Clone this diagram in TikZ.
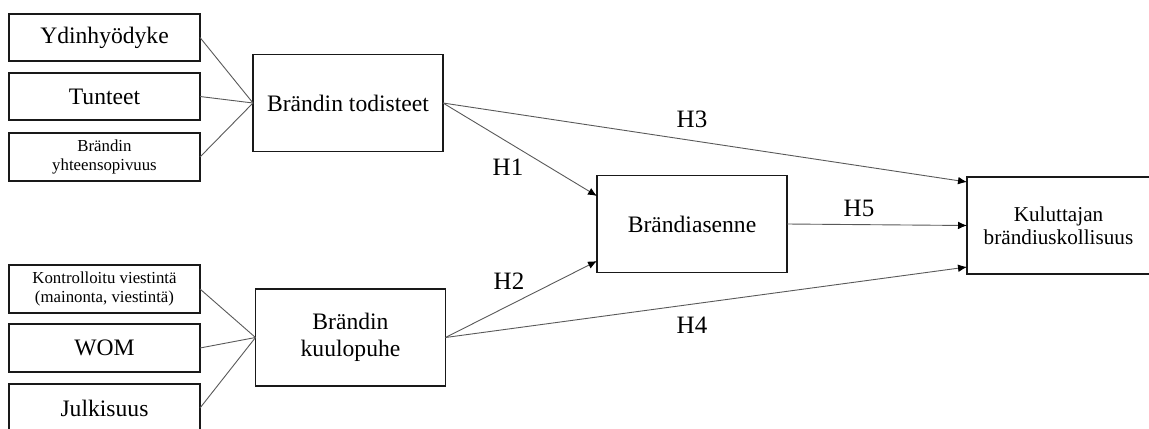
\documentclass[tikz,border=0pt]{standalone}
\usepackage{fontspec}
\setmainfont{Liberation Serif}
\usetikzlibrary{arrows.meta}

\tikzset{
  box/.style={draw=black!90, line width=0.85pt, inner sep=0pt, outer sep=0pt,
    align=center, font=\fontsize{11.8}{13.5}\selectfont},
  leftbox/.style={box, minimum width=95.5pt, minimum height=23.75pt},
  smallbox/.style={leftbox, font=\fontsize{8.4}{9.2}\selectfont},
  midbox/.style={box, minimum width=95pt, minimum height=48.5pt},
  link/.style={draw=black!65, line width=0.45pt},
  hyp/.style={link, -{Latex[length=4.5pt,width=3.8pt,color=black]}},
  hlabel/.style={font=\fontsize{12.5}{14}\selectfont}
}

\begin{document}
\begin{tikzpicture}[x=0.5pt, y=-0.5pt]

  \clip (0,0) rectangle (1149,428);

  % left column, upper group
  \node[leftbox]  (yd) at (104.5,37.5) {Ydinhyödyke};
  \node[leftbox]  (tu) at (104.5,96.5) {Tunteet};
  \node[smallbox] (yh) at (104.5,157)  {Brändin\\yhteensopivuus};

  % left column, lower group
  \node[smallbox] (ko)  at (104.5,289) {Kontrolloitu viestintä\\(mainonta, viestintä)};
  \node[leftbox]  (wom) at (104.5,348) {WOM};
  \node[leftbox]  (ju)  at (104.5,408) {Julkisuus};

  % constructs
  \node[midbox] (tod) at (348,103)     {Brändin todisteet};
  \node[midbox] (kuu) at (350.5,337.5) {Brändin\\kuulopuhe};
  \node[midbox] (ase) at (692,224)     {Brändiasenne};
  \node[midbox, minimum width=91.5pt, font=\fontsize{10.6}{11.5}\selectfont]
    (kul) at (1058.5,225.5) {Kuluttajan\\brändiuskollisuus};

  % indicators
  \foreach \n in {yd,tu,yh}
    \draw[link] (\n.east) -- (tod.west);
  \foreach \n in {ko,wom,ju}
    \draw[link] (\n.east) -- (kuu.west);

  % hypotheses
  \draw[hyp] (tod.east) -- ([yshift=14pt]ase.west);
  \draw[hyp] (kuu.east) -- ([yshift=-18.5pt]ase.west);
  \draw[hyp] (tod.east) -- ([yshift=21.75pt]kul.west);
  \draw[hyp] (kuu.east) -- ([yshift=-20.75pt]kul.west);
  \draw[hyp] (ase.east) -- (kul.west);

  \node[hlabel] (h1) at (508,167) {H1};
  \node[hlabel] (h2) at (509,281) {H2};
  \node[hlabel] (h3) at (692,119) {H3};
  \node[hlabel] (h4) at (692,325) {H4};
  \node[hlabel] (h5) at (859,208) {H5};

\end{tikzpicture}
\end{document}
